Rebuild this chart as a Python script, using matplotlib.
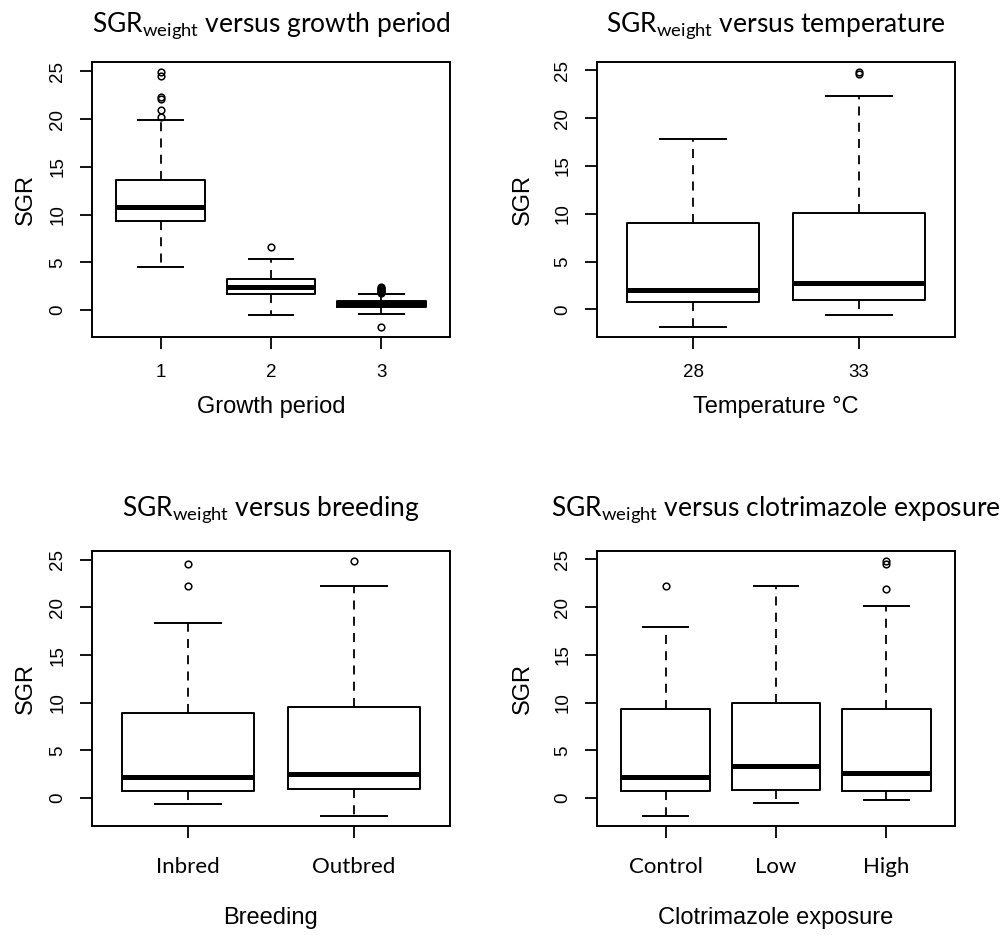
import matplotlib
matplotlib.use('Agg')
import matplotlib.pyplot as plt

# values (box stats per group)
period_labels = ['1', '2', '3']
period_med = [10.84, 2.45, 0.65]
period_q1 = [9.34, 1.71, 0.35]
period_q3 = [13.6, 3.22, 1.0]
period_lo = [4.48, -0.56, -0.39]
period_hi = [19.87, 5.38, 1.68]
period_out = [[20.2, 20.95, 22.1, 22.3, 24.55, 24.9],
              [6.6],
              [1.8, 1.9, 2.0, 2.1, 2.2, 2.3, 2.4, -1.75]]

temp_labels = ['28', '33']
temp_med = [1.99, 2.76]
temp_q1 = [0.77, 0.94]
temp_q3 = [8.99, 10.1]
temp_lo = [-1.82, -0.56]
temp_hi = [17.84, 22.28]
temp_out = [[], [24.6, 24.8]]

breed_labels = ['Inbred', 'Outbred']
breed_med = [2.24, 2.55]
breed_q1 = [0.74, 0.91]
breed_q3 = [8.96, 9.56]
breed_lo = [-0.63, -1.86]
breed_hi = [18.41, 22.27]
breed_out = [[22.27, 24.55], [24.86]]

clot_labels = ['Control', 'Low', 'High']
clot_med = [2.24, 3.4, 2.59]
clot_q1 = [0.74, 0.88, 0.74]
clot_q3 = [9.28, 10.01, 9.28]
clot_lo = [-1.86, -0.49, -0.21]
clot_hi = [17.96, 22.27, 20.17]
clot_out = [[22.27], [], [21.95, 24.57, 24.82]]

ARIAL = 'Liberation Sans'
CALIBRI = 'Lato'


def make_stats(med, q1, q3, lo, hi, out):
    stats = []
    for i in range(len(med)):
        stats.append(dict(med=med[i], q1=q1[i], q3=q3[i],
                          whislo=lo[i], whishi=hi[i], fliers=out[i]))
    return stats


def draw_panel(ax, stats, labels, title, xlabel, bottom_row, right_col):
    n = len(stats)
    ax.bxp(stats, positions=range(1, n + 1), widths=0.8, showfliers=True,
           boxprops=dict(color='black', linewidth=1.4),
           medianprops=dict(color='black', linewidth=3.6, solid_capstyle='butt'),
           whiskerprops=dict(color='black', linewidth=1.3, linestyle=(0, (5, 4))),
           capprops=dict(color='black', linewidth=1.4),
           capwidths=0.4,
           flierprops=dict(marker='o', markerfacecolor='none', markeredgecolor='black',
                           markersize=4.8, markeredgewidth=1.1, linestyle='none'))
    ax.set_xlim(0.5 - 0.04 * n, n + 0.5 + 0.04 * n)
    ax.margins(y=0.04)
    ax.set_yticks([0, 5, 10, 15, 20, 25])
    ax.set_yticklabels(['0', '5', '10', '15', '20', '25'], rotation=90, va='center',
                       family=ARIAL, fontsize=13.5)
    ax.set_xticks(range(1, n + 1))
    for sp in ax.spines.values():
        sp.set_linewidth(1.4)
    ax.tick_params(axis='both', length=8.6, width=1.3, color='black')
    ax.tick_params(axis='y', pad=10)
    if bottom_row:
        ax.set_xticklabels(labels, family=CALIBRI, fontsize=16)
        ax.tick_params(axis='x', pad=14)
        ax.set_title(title, family=CALIBRI, fontsize=19, pad=25)
        ax.set_xlabel(xlabel, family=ARIAL, fontsize=17)
        ax.xaxis.set_label_coords(0.5, -0.293)
    else:
        ax.set_xticklabels(labels, family=ARIAL, fontsize=13.5)
        ax.tick_params(axis='x', pad=11)
        ax.set_title(title, family=CALIBRI, fontsize=19, pad=22)
        ax.set_xlabel(xlabel, family=ARIAL, fontsize=17)
        ax.xaxis.set_label_coords(0.5, -0.216)
    ax.set_ylabel('SGR', family=ARIAL, fontsize=17)
    ax.yaxis.set_label_coords(-0.177 if right_col else -0.155, 0.5)


fig = plt.figure(figsize=(10.03, 9.35), dpi=100)
W, H = 1003.0, 935.0
ax1 = fig.add_axes([92 / W, 1 - 337 / H, 358 / W, 275 / H])
ax2 = fig.add_axes([597 / W, 1 - 337 / H, 358 / W, 275 / H])
ax3 = fig.add_axes([92 / W, 1 - 826 / H, 358 / W, 275 / H])
ax4 = fig.add_axes([597 / W, 1 - 826 / H, 358 / W, 275 / H])

sub = r'$\mathregular{SGR_{weight}}$'
draw_panel(ax1, make_stats(period_med, period_q1, period_q3, period_lo, period_hi, period_out),
           period_labels, sub + ' versus growth period', 'Growth period', False, False)
draw_panel(ax2, make_stats(temp_med, temp_q1, temp_q3, temp_lo, temp_hi, temp_out),
           temp_labels, sub + ' versus temperature', 'Temperature \u00b0C', False, True)
draw_panel(ax3, make_stats(breed_med, breed_q1, breed_q3, breed_lo, breed_hi, breed_out),
           breed_labels, sub + ' versus breeding', 'Breeding', True, False)
draw_panel(ax4, make_stats(clot_med, clot_q1, clot_q3, clot_lo, clot_hi, clot_out),
           clot_labels, sub + ' versus clotrimazole exposure', 'Clotrimazole exposure', True, True)

fig.savefig('out.png', dpi=100, facecolor='white')
